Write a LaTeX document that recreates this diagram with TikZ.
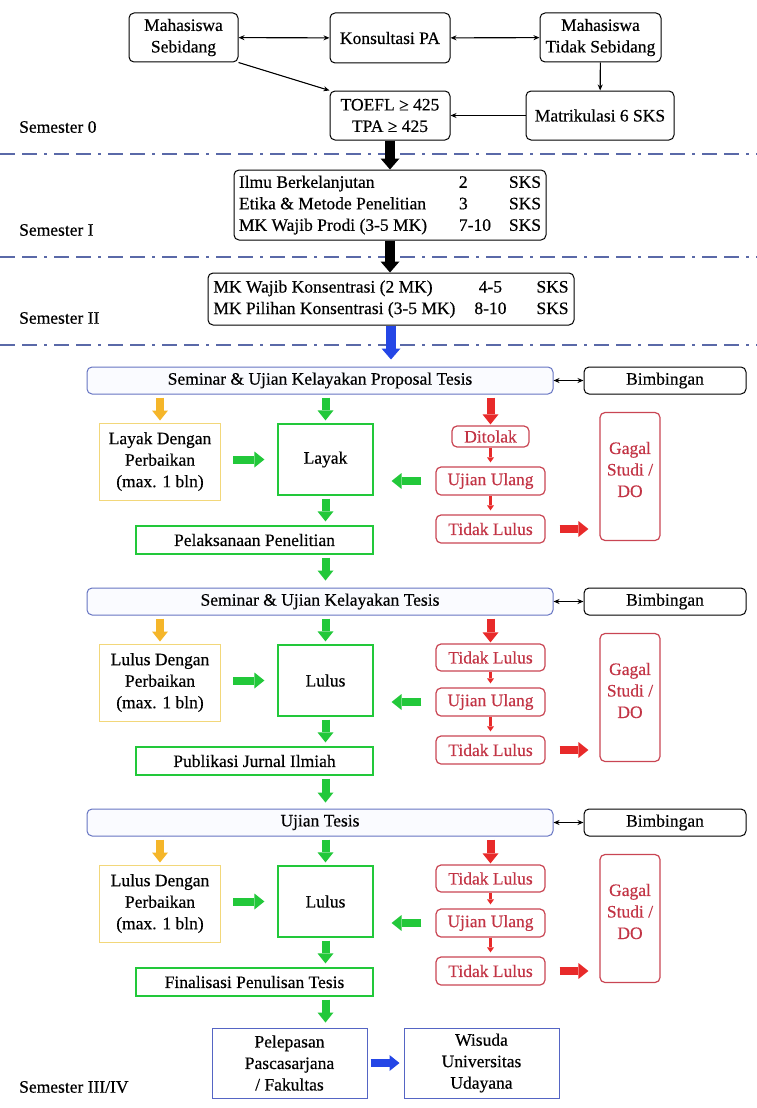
\documentclass[tikz,border=0pt]{standalone}
\usepackage{fontspec}
\setmainfont{Liberation Serif}[FakeBold=0.4]
\usetikzlibrary{arrows.meta,calc,positioning}
\definecolor{garis}{HTML}{5A69A8}
\definecolor{birutepi}{HTML}{6674C2}
\definecolor{birumuda}{HTML}{FAFBFF}
\definecolor{kuning}{HTML}{F2D77A}
\definecolor{oranye}{HTML}{F5B62A}
\definecolor{hijau}{HTML}{22C83A}
\definecolor{merah}{HTML}{E82A2A}
\definecolor{merahtepi}{HTML}{C94553}
\definecolor{merahteks}{HTML}{C23445}
\definecolor{biru}{HTML}{2446E6}
\definecolor{birukotak}{HTML}{5565C4}
\tikzset{
  kotak/.style={draw,rounded corners=5pt,line width=1pt,align=center,inner sep=0pt},
  seminar/.style={kotak,draw=birutepi,fill=birumuda,minimum width=466pt,minimum height=27pt},
  bimb/.style={kotak,minimum width=162pt,minimum height=27pt},
  dengan/.style={draw=kuning,line width=1pt,align=center,inner sep=0pt,minimum width=121pt,minimum height=77pt},
  hijaubox/.style={draw=hijau,line width=1.2pt,align=center,inner sep=0pt},
  merahbox/.style={kotak,draw=merahtepi,text=merahteks,line width=1.2pt,minimum width=109pt,minimum height=28pt},
  birubox/.style={draw=birukotak,line width=1pt,align=center,inner sep=0pt,minimum width=155pt,minimum height=70pt},
  panah/.style={line width=1.1pt,-{Stealth[length=6pt,width=5pt]}},
  duapanah/.style={line width=1.1pt,{Stealth[length=6pt,width=5pt]}-{Stealth[length=6pt,width=5pt]}},
  blok/.style={line width=8pt,-{Triangle[length=10pt,width=16pt,line width=0pt]}},
  blokbesar/.style={line width=10pt,-{Triangle[length=11pt,width=19pt,line width=0pt]}},
  blokkecil/.style={line width=3pt,-{Triangle[length=5pt,width=7pt,line width=0pt]}},
  semlabel/.style={anchor=west,inner sep=0pt}
}
\begin{document}
\begin{tikzpicture}[x=1pt,y=-1pt,font=\fontsize{17.5}{21.5}\selectfont]
  \pgfmathsetmacro{\xkiri}{160}
  \pgfmathsetmacro{\xhasil}{325.5}
  \pgfmathsetmacro{\xmerah}{490.5}
  \pgfmathsetmacro{\xgagal}{630}
  \useasboundingbox (0,0) rectangle (757,1108);
%Trennlinien
\foreach \yy in {154,257,345}{
\draw[garis,line width=1.5pt,dash pattern=on 15pt off 7pt on 15pt off 7pt on 3pt off 7pt] (0,\yy) -- (757,\yy);
}
\node[semlabel] (semnol) at (19,127) {Semester 0};
\node[semlabel] (semI) at (19,230) {Semester I};
\node[semlabel] (semII) at (19,318) {Semester II};
\node[semlabel] (semIV) at (19,1087) {Semester III/IV};
%Semester 0
\node[kotak,minimum width=109pt,minimum height=49pt] (sebidang) at (183.5,37.5) {Mahasiswa\\Sebidang};
\node[kotak,minimum width=120pt,minimum height=50pt] (konsultasi) at (390,38) {Konsultasi PA};
\node[kotak,minimum width=121pt,minimum height=49pt] (tdksebidang) at (600.5,37.5) {Mahasiswa\\Tidak Sebidang};
\node[kotak,minimum width=120pt,minimum height=49pt] (toefl) at (390,115.5) {TOEFL ≥ 425\\TPA ≥ 425};
\node[kotak,minimum width=148pt,minimum height=49pt] (matrikulasi) at (600,115.5) {Matrikulasi 6 SKS};
\draw[duapanah] (sebidang) -- (konsultasi);
\draw[duapanah] (konsultasi) -- (tdksebidang);
\draw[panah] (sebidang.south east) -- (toefl.north west);
\draw[panah] (tdksebidang) -- (matrikulasi);
\draw[panah] (matrikulasi) -- (toefl);
%Semester I und II
\node[kotak,minimum width=312pt,minimum height=70pt] (semsatu) at (390,205) {\begin{tabular}{@{}p{220pt}@{}p{50pt}@{}l@{}}
Ilmu Berkelanjutan & 2 & SKS\\
Etika \& Metode Penelitian & 3 & SKS\\
MK Wajib Prodi (3-5 MK) & 7-10 & SKS
\end{tabular}};
\node[kotak,minimum width=366pt,minimum height=52pt] (semdua) at (391,299) {\begin{tabular}{@{}p{261pt}@{}c@{\hspace{30pt}}l@{}}
MK Wajib Konsentrasi (2 MK) & 4-5 & SKS\\
MK Pilihan Konsentrasi (3-5 MK) & 8-10 & SKS
\end{tabular}};
\draw[blokbesar,black] (toefl) -- (semsatu);
\draw[blokbesar,black] (semsatu.south) -- (semsatu.south |- semdua.north);
%Seminar, Ujian
\foreach \i/\yy/\judul/\hasil/\tolak/\tw/\th/\lanjut in {
1/367/Seminar \& Ujian Kelayakan Proposal Tesis/Layak/Ditolak/77/21/Pelaksanaan Penelitian,
2/588/Seminar \& Ujian Kelayakan Tesis/Lulus/Tidak Lulus/109/27/Publikasi Jurnal Ilmiah,
3/809/Ujian Tesis/Lulus/Tidak Lulus/109/27/Finalisasi Penulisan Tesis}{
\node[seminar] (sem\i) at (320,\yy+13.5) {\judul};
\node[bimb] (bimb\i) at (665,\yy+13.5) {Bimbingan};
\node[dengan] (dengan\i) at (\xkiri,\yy+94.5) {\hasil{} Dengan\\Perbaikan\\(max. 1 bln)};
\node[hijaubox,minimum width=95pt,minimum height=71pt] (hasil\i) at (\xhasil,\yy+92.5) {\hasil};
\node[merahbox,minimum width=\tw pt,minimum height=\th pt] (tolak\i) at (\xmerah,\yy+69.5) {\tolak};
\node[merahbox] (ujian\i) at (\xmerah,\yy+114) {Ujian Ulang};
\node[merahbox] (tidak\i) at (\xmerah,\yy+162) {Tidak Lulus};
\node[merahbox,minimum width=60pt,minimum height=128pt] (gagal\i) at (\xgagal,\yy+109.5) {};
\node[text=merahteks,align=center,inner sep=0pt] (gagalteks\i) at (\xgagal,\yy+102.5) {Gagal\\Studi /\\DO};
\node[hijaubox,minimum width=237pt,minimum height=28pt] (lanjut\i) at (254.5,\yy+173) {\lanjut};
\draw[duapanah] (sem\i) -- (bimb\i);
\draw[blok,oranye,shorten <=3pt,shorten >=2pt] (sem\i.south -| dengan\i.north) -- (dengan\i.north);
\draw[blok,hijau,shorten <=3pt,shorten >=3pt] (sem\i.south -| hasil\i.north) -- (hasil\i.north);
\draw[blok,merah,shorten <=3pt,shorten >=1pt] (sem\i.south -| tolak\i.north) -- (tolak\i.north);
\draw[blok,hijau,shorten <=12pt,shorten >=13pt] (hasil\i.west -| dengan\i.east) -- (hasil\i.west);
\draw[blokkecil,merah,shorten >=4pt] (tolak\i) -- (ujian\i);
\draw[blokkecil,merah,shorten >=4pt] (ujian\i) -- (tidak\i);
\draw[blok,hijau,shorten <=14pt,shorten >=18pt] (ujian\i.west) -- (ujian\i.west -| hasil\i.east);
\draw[blok,merah,shorten <=14pt,shorten >=11pt] (tidak\i.east) -- (tidak\i.east -| gagal\i.west);
\draw[blok,hijau,shorten <=3pt,shorten >=4pt] (hasil\i.south) -- (hasil\i.south |- lanjut\i.north);
}
\draw[blokbesar,biru,shorten >=7pt] (semdua.south) -- (semdua.south |- sem1.north);
%Abschluss
\node[birubox] (pelepasan) at (289.5,1063) {Pelepasan\\Pascasarjana\\/ Fakultas};
\node[birubox] (wisuda) at (481.5,1063) {Wisuda\\Universitas\\Udayana};
\draw[blok,hijau,shorten <=3pt,shorten >=7pt] (hasil1.south |- lanjut1.south) -- (hasil1.south |- sem2.north);
\draw[blok,hijau,shorten <=3pt,shorten >=6pt] (hasil2.south |- lanjut2.south) -- (hasil2.south |- sem3.north);
\draw[blok,hijau,shorten <=3pt,shorten >=5pt] (hasil3.south |- lanjut3.south) -- (hasil3.south |- pelepasan.north);
\draw[blok,biru,shorten <=3pt,shorten >=4pt] (pelepasan) -- (wisuda);
\end{tikzpicture}
\end{document}
